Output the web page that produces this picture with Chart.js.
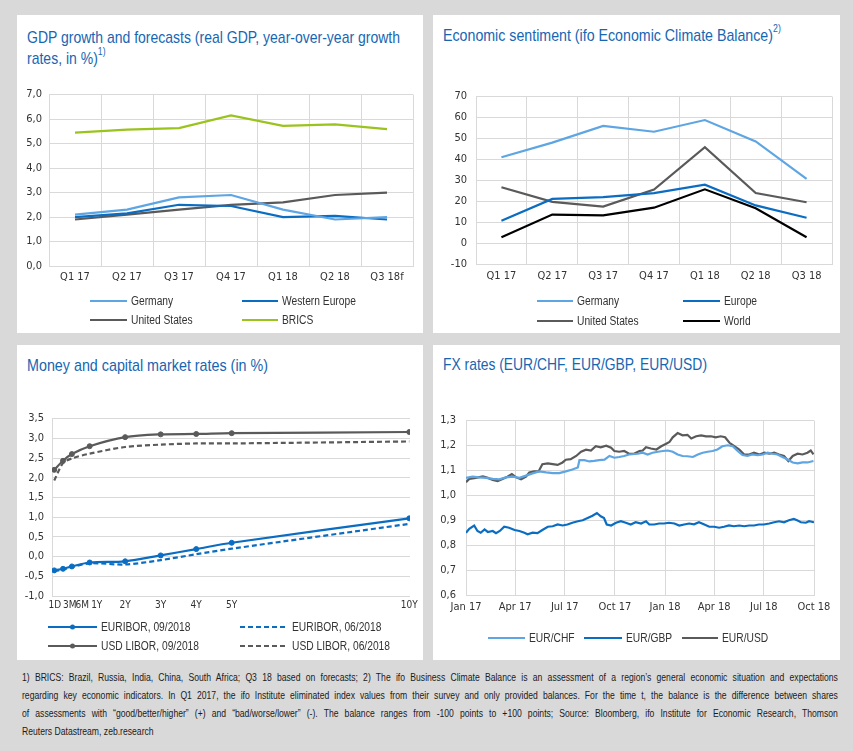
<!DOCTYPE html>
<html>
<head>
<meta charset="utf-8">
<script src="https://cdn.jsdelivr.net/npm/chart.js@4.4.0/dist/chart.umd.min.js"></script>
<style>
  body { margin:0; width:853px; height:751px; background:#d9d9d9; position:relative; overflow:hidden;
         font-family:'Liberation Sans',Arial,sans-serif; }
  .panel { position:absolute; background:#fff; }
  .title { position:absolute; color:#1766b3; font-size:17px; line-height:21px; white-space:nowrap; transform-origin:0 0; }
  .title sup { font-size:10.5px; line-height:0; position:relative; top:-2px; }
  canvas { position:absolute; }
  .leg { position:absolute; height:16px; display:flex; align-items:center; font-size:12.5px; color:#333; white-space:nowrap; }
  .leg svg { margin-right:4px; flex:none; }
  .leg span { display:inline-block; transform:scaleX(0.82); transform-origin:0 50%; }
  .foot { position:absolute; left:22px; top:668px; width:995px; font-size:10.5px; color:#1a1a1a;
          transform:scaleX(0.82); transform-origin:0 0; }
  .foot div { height:18px; line-height:18px; text-align:justify; text-align-last:justify; }
  .foot div.last { text-align-last:left; }
</style>
</head>
<body>
<div class="panel" style="left:17px;top:15px;width:406px;height:318px"></div>
<div class="panel" style="left:433px;top:15px;width:407px;height:318px"></div>
<div class="panel" style="left:17px;top:345px;width:406px;height:315px"></div>
<div class="panel" style="left:433px;top:345px;width:407px;height:315px"></div>

<div class="title" data-w="373" style="left:27px;top:27px"><span>GDP growth and forecasts (real GDP, year-over-year growth</span><br>rates, in %)<sup>1)</sup></div>
<div class="title" data-w="330" style="left:443px;top:25px"><span>Economic sentiment (ifo Economic Climate Balance)</span><sup>2)</sup></div>
<div class="title" data-w="241" style="left:27px;top:355px"><span>Money and capital market rates (in %)</span></div>
<div class="title" data-w="264" style="left:443px;top:354px"><span>FX rates (EUR/CHF, EUR/GBP, EUR/USD)</span></div>

<canvas id="gdp"></canvas>
<canvas id="ifo"></canvas>
<canvas id="rates"></canvas>
<canvas id="fx"></canvas>

<div class="foot">
  <div>1) BRICS: Brazil, Russia, India, China, South Africa; Q3 18 based on forecasts; 2) The ifo Business Climate Balance is an assessment of a region’s general economic situation and expectations</div>
  <div>regarding key economic indicators. In Q1 2017, the ifo Institute eliminated index values from their survey and only provided balances. For the time t, the balance is the difference between shares</div>
  <div>of assessments with “good/better/higher” (+) and “bad/worse/lower” (-). The balance ranges from -100 points to +100 points; Source: Bloomberg, ifo Institute for Economic Research, Thomson</div>
  <div class="last">Reuters Datastream, zeb.research</div>
</div>

<script>
// GDP growth, % yoy
const gdpQuarters = ['Q1 17', 'Q2 17', 'Q3 17', 'Q4 17', 'Q1 18', 'Q2 18', 'Q3 18f'];
const gdpGermany = [2.1, 2.3, 2.8, 2.9, 2.3, 1.9, 2.0];
const gdpWesternEurope = [2.0, 2.15, 2.5, 2.45, 2.0, 2.05, 1.9];
const gdpUnitedStates = [1.9, 2.1, 2.3, 2.5, 2.6, 2.9, 3.0];
const gdpBrics = [5.45, 5.57, 5.63, 6.15, 5.72, 5.78, 5.59];

// ifo economic climate balance
const ifoQuarters = ['Q1 17', 'Q2 17', 'Q3 17', 'Q4 17', 'Q1 18', 'Q2 18', 'Q3 18'];
const ifoGermany = [41, 48, 56, 53.2, 58.8, 48.6, 30.7];
const ifoEurope = [10.7, 21.1, 22, 23.9, 27.9, 18, 12.1];
const ifoUnitedStates = [26.7, 19.7, 17.4, 25.6, 45.8, 23.9, 19.5];
const ifoWorld = [2.8, 13.6, 13.2, 16.9, 25.7, 16.6, 2.8];

// money and capital market rates, maturity in years
const maturityYears = [0.003, 0.25, 0.5, 1, 2, 3, 4, 5, 10];
const maturityLabels = ['1D', '3M', '6M', '1Y', '2Y', '3Y', '4Y', '5Y', '10Y'];
const maturityLabelYears = [0.02, 0.44, 0.79, 1.2, 2, 3, 4, 5, 10]; // where the labels sit, spread apart as in the original
const euribor0918 = [-0.35, -0.31, -0.25, -0.15, -0.12, 0.03, 0.19, 0.35, 0.97];
const euribor0618 = [-0.37, -0.33, -0.27, -0.17, -0.2, -0.09, 0.06, 0.2, 0.83];
const usdLibor0918 = [2.2, 2.43, 2.6, 2.8, 3.03, 3.1, 3.11, 3.13, 3.16];
const usdLibor0618 = [1.93, 2.37, 2.49, 2.61, 2.78, 2.84, 2.87, 2.87, 2.92];

// FX rates, x = days since 1 Jan 2017
const fxTickDays = [0, 90, 181, 273, 365, 455, 546, 638];
const fxTickLabels = ['Jan 17', 'Apr 17', 'Jul 17', 'Oct 17', 'Jan 18', 'Apr 18', 'Jul 18', 'Oct 18'];
const chfDays = [0, 12, 24, 37, 49, 61, 73, 86, 98, 110, 122, 134, 147, 159, 171, 183, 195, 205, 208, 217,
  226, 235, 244, 254, 263, 272, 281, 290, 299, 315, 324, 333, 342, 352, 361, 370, 379, 388, 397, 406,
  416, 425, 434, 443, 452, 461, 470, 480, 489, 498, 507, 516, 525, 535, 544, 553, 562, 571, 580, 589,
  599, 608, 617, 626, 637];
const eurChf = [1.07, 1.075, 1.072, 1.07, 1.066, 1.064, 1.072, 1.075, 1.07, 1.079, 1.088, 1.096, 1.092, 1.089, 1.089, 1.096, 1.104, 1.112, 1.141, 1.141,
  1.136, 1.138, 1.141, 1.143, 1.158, 1.151, 1.154, 1.158, 1.164, 1.167, 1.171, 1.164, 1.171, 1.175, 1.178, 1.18, 1.175, 1.164, 1.158, 1.157,
  1.154, 1.164, 1.171, 1.175, 1.178, 1.184, 1.197, 1.201, 1.197, 1.178, 1.162, 1.158, 1.164, 1.161, 1.164, 1.171, 1.167, 1.164, 1.154, 1.145,
  1.132, 1.128, 1.132, 1.132, 1.138];
const gbpDays = [0, 6, 15, 21, 27, 34, 40, 49, 55, 62, 70, 79, 89, 98, 107, 113, 122, 131, 140, 150,
  159, 168, 177, 186, 195, 205, 214, 223, 232, 240, 247, 253, 258, 266, 275, 284, 293, 302, 311, 321,
  330, 336, 345, 354, 363, 372, 382, 391, 400, 409, 418, 427, 437, 446, 455, 464, 473, 482, 491, 501,
  510, 519, 528, 537, 546, 556, 565, 574, 583, 592, 601, 607, 614, 623, 629, 638];
const eurGbp = [0.85, 0.866, 0.879, 0.857, 0.85, 0.863, 0.853, 0.857, 0.848, 0.857, 0.874, 0.87, 0.861, 0.857, 0.85, 0.844, 0.85, 0.848, 0.861, 0.874,
  0.876, 0.883, 0.879, 0.883, 0.89, 0.896, 0.9, 0.909, 0.918, 0.929, 0.916, 0.909, 0.883, 0.879, 0.89, 0.896, 0.89, 0.883, 0.892, 0.887,
  0.896, 0.883, 0.883, 0.887, 0.887, 0.89, 0.887, 0.879, 0.883, 0.887, 0.884, 0.892, 0.883, 0.874, 0.874, 0.87, 0.874, 0.879, 0.876, 0.879,
  0.876, 0.879, 0.879, 0.883, 0.883, 0.887, 0.892, 0.896, 0.892, 0.9, 0.905, 0.9, 0.892, 0.89, 0.896, 0.892];
const usdDays = [0, 6, 18, 31, 40, 49, 58, 67, 76, 84, 92, 101, 110, 116, 125, 133, 140, 150, 159, 168,
  177, 183, 192, 202, 211, 220, 229, 238, 247, 257, 266, 272, 281, 290, 299, 308, 318, 324, 330, 339,
  349, 358, 367, 373, 379, 388, 397, 406, 413, 422, 431, 440, 449, 458, 467, 475, 483, 492, 501, 510,
  519, 528, 538, 547, 556, 565, 574, 583, 591, 599, 608, 617, 626, 632, 637];
const eurUsd = [1.053, 1.066, 1.07, 1.076, 1.07, 1.062, 1.057, 1.066, 1.075, 1.085, 1.072, 1.064, 1.075, 1.092, 1.096, 1.096, 1.125, 1.128, 1.125, 1.122,
  1.132, 1.143, 1.145, 1.158, 1.175, 1.183, 1.18, 1.197, 1.193, 1.199, 1.191, 1.178, 1.175, 1.178, 1.167, 1.167, 1.178, 1.18, 1.193, 1.188,
  1.184, 1.197, 1.207, 1.214, 1.233, 1.25, 1.241, 1.243, 1.228, 1.237, 1.241, 1.237, 1.237, 1.233, 1.237, 1.233, 1.211, 1.197, 1.184, 1.164,
  1.164, 1.171, 1.164, 1.171, 1.167, 1.171, 1.164, 1.158, 1.138, 1.158, 1.167, 1.164, 1.171, 1.18, 1.164];

const lightBlue = '#5ea5e3';
const blue = '#0b6dc2';
const grey = '#5a5a5a';
const green = '#9bc31e';
const gridColor = '#d9d9d9';

Chart.defaults.font.family = "'DejaVu Sans Condensed','Liberation Sans',sans-serif";
Chart.defaults.font.size = 11;
Chart.defaults.color = '#333333';

// squeeze titles to the width of the original narrow font
document.querySelectorAll('.title').forEach(t => {
  const w = t.querySelector('span').getBoundingClientRect().width;
  t.style.transform = 'scaleX(' + (t.dataset.w / w) + ')';
});

function comma(v, d) {
  return Number(v).toFixed(d).replace('.', ',');
}

function pairs(xs, ys) {
  return xs.map((x, i) => ({ x: x, y: ys[i] }));
}

// places the canvas so that the plot area lands on plot {l,t,r,b}
function build(id, plot, data, scales, padRight) {
  const yW = 40, xH = 28, padTop = 12;
  const cv = document.getElementById(id);
  cv.width = plot.r - plot.l + yW + padRight;
  cv.height = plot.b - plot.t + padTop + xH;
  cv.style.left = (plot.l - yW) + 'px';
  cv.style.top = (plot.t - padTop) + 'px';
  scales.x.afterFit = s => { s.height = xH; };
  scales.y.afterFit = s => { s.width = yW; };
  return new Chart(cv, {
    type: 'line',
    data: data,
    options: {
      responsive: false,
      animation: false,
      layout: { padding: { top: padTop, right: padRight, left: 0, bottom: 0 } },
      plugins: { legend: { display: false }, tooltip: { enabled: false } },
      elements: { point: { radius: 0 }, line: { borderWidth: 2.2, tension: 0 } },
      scales: scales
    }
  });
}

function legend(chart, slots) {
  chart.data.datasets.forEach((ds, i) => {
    const s = slots[i];
    const el = document.createElement('div');
    el.className = 'leg';
    el.style.left = s.x + 'px';
    el.style.top = (s.y - 8) + 'px';
    const dash = ds.borderDash ? ' stroke-dasharray="' + ds.borderDash.join(' ') + '"' : '';
    const dot = ds.pointRadius ? '<circle cx="' + s.w / 2 + '" cy="5" r="2.5" fill="' + ds.borderColor + '"/>' : '';
    el.innerHTML = '<svg width="' + s.w + '" height="10"><line x1="0" y1="5" x2="' + s.w + '" y2="5" stroke="' +
      ds.borderColor + '" stroke-width="2.2"' + dash + '/>' + dot + '</svg><span>' + ds.label + '</span>';
    document.body.appendChild(el);
  });
}

function catScales(min, max, step, decimals, yPad, xPad) {
  return {
    x: {
      offset: true,
      grid: { offset: true, color: gridColor, drawTicks: false },
      border: { color: gridColor },
      ticks: { padding: xPad, maxRotation: 0, autoSkip: false }
    },
    y: {
      min: min, max: max,
      grid: { color: gridColor, drawTicks: false },
      border: { color: gridColor },
      ticks: { stepSize: step, padding: yPad, callback: v => comma(v, decimals) }
    }
  };
}

// 1) GDP growth
const gdpChart = build('gdp', { l: 49, t: 93, r: 413, b: 266 }, {
  labels: gdpQuarters,
  datasets: [
    { label: 'Germany', data: gdpGermany, borderColor: lightBlue },
    { label: 'Western Europe', data: gdpWesternEurope, borderColor: blue },
    { label: 'United States', data: gdpUnitedStates, borderColor: grey },
    { label: 'BRICS', data: gdpBrics, borderColor: green }
  ]
}, catScales(0, 7, 1, 1, 7, 5), 10);
legend(gdpChart, [
  { x: 90, y: 301, w: 37 }, { x: 242, y: 301, w: 36 },
  { x: 90, y: 320, w: 37 }, { x: 242, y: 320, w: 36 }
]);

// 2) ifo sentiment
const ifoChart = build('ifo', { l: 476, t: 93, r: 832, b: 264 }, {
  labels: ifoQuarters,
  datasets: [
    { label: 'Germany', data: ifoGermany, borderColor: lightBlue },
    { label: 'Europe', data: ifoEurope, borderColor: blue },
    { label: 'United States', data: ifoUnitedStates, borderColor: grey },
    { label: 'World', data: ifoWorld, borderColor: '#000000' }
  ]
}, catScales(-10, 70, 10, 0, 9, 6), 8);
legend(ifoChart, [
  { x: 537, y: 301, w: 36 }, { x: 683, y: 301, w: 37 },
  { x: 537, y: 321, w: 36 }, { x: 683, y: 321, w: 37 }
]);

// 3) money and capital market rates
const ratesChart = build('rates', { l: 52, t: 416, r: 410, b: 596 }, {
  datasets: [
    { label: 'EURIBOR, 09/2018', data: pairs(maturityYears, euribor0918), borderColor: blue, backgroundColor: blue,
      pointRadius: 2.5, tension: 0.3 },
    { label: 'EURIBOR, 06/2018', data: pairs(maturityYears, euribor0618), borderColor: blue, borderDash: [5, 3],
      tension: 0.3 },
    { label: 'USD LIBOR, 09/2018', data: pairs(maturityYears, usdLibor0918), borderColor: grey, backgroundColor: grey,
      pointRadius: 2.5, tension: 0.3 },
    { label: 'USD LIBOR, 06/2018', data: pairs(maturityYears, usdLibor0618), borderColor: grey, borderDash: [5, 3],
      tension: 0.3 }
  ]
}, {
  x: {
    type: 'linear', min: -0.06, max: 10.02,
    grid: { display: false, drawTicks: false },
    border: { display: false },
    afterBuildTicks: s => { s.ticks = maturityLabelYears.map(v => ({ value: v })); },
    ticks: { padding: 3, autoSkip: false, maxRotation: 0, font: { size: 10 },
      callback: v => maturityLabels[maturityLabelYears.indexOf(v)] }
  },
  y: {
    min: -1, max: 3.5,
    grid: { color: gridColor, drawTicks: false },
    border: { color: gridColor },
    ticks: { stepSize: 0.5, padding: 8, callback: v => comma(v, 1) }
  }
}, 14);
legend(ratesChart, [
  { x: 48, y: 627, w: 49 }, { x: 240, y: 627, w: 48 },
  { x: 48, y: 646, w: 49 }, { x: 240, y: 646, w: 48 }
]);

// 4) FX rates
const fxChart = build('fx', { l: 466, t: 416, r: 814, b: 595 }, {
  datasets: [
    { label: 'EUR/CHF', data: pairs(chfDays, eurChf), borderColor: lightBlue },
    { label: 'EUR/GBP', data: pairs(gbpDays, eurGbp), borderColor: blue },
    { label: 'EUR/USD', data: pairs(usdDays, eurUsd), borderColor: grey }
  ]
}, {
  x: {
    type: 'linear', min: 0, max: 638,
    grid: { color: gridColor, drawTicks: false },
    border: { color: gridColor },
    afterBuildTicks: s => { s.ticks = fxTickDays.map(v => ({ value: v })); },
    ticks: { padding: 6, autoSkip: false, maxRotation: 0,
      callback: v => fxTickLabels[fxTickDays.indexOf(v)] }
  },
  y: {
    min: 0.6, max: 1.3,
    grid: { color: gridColor, drawTicks: false },
    border: { color: gridColor },
    ticks: { stepSize: 0.1, padding: 10, callback: v => comma(v, 1) }
  }
}, 24);
legend(fxChart, [
  { x: 488, y: 638, w: 37 }, { x: 584, y: 638, w: 38 }, { x: 682, y: 638, w: 36 }
]);
</script>
</body>
</html>
